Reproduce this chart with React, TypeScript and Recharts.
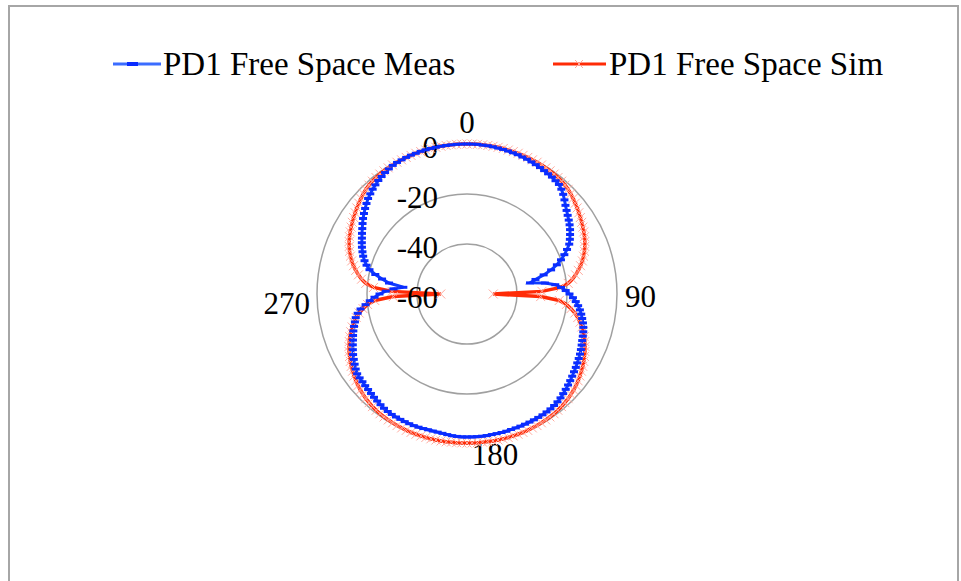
import { RadarChart, Radar, PolarGrid, PolarAngleAxis, PolarRadiusAxis, Legend } from "recharts";

const FONT = '"Liberation Serif", "Times New Roman", serif';

// measured pattern (dB), 0..358 deg in 2 deg steps
const meas = [
  0, 0, 0, -0.1, -0.1, -0.2, -0.3, -0.4, -0.5, -0.6,
  -0.7, -0.9, -1.0, -1.2, -1.4, -1.6, -1.8, -2.0, -2.2, -2.5,
  -2.8, -3.6, -4.6, -5.8, -7.0, -8.0, -8.9, -9.7, -10.5, -11.4,
  -12.4, -13.4, -14.5, -16.2, -18.0, -20.0, -22.2, -25.0, -28.4, -32.0,
  -34.4, -28.5, -24.5, -22.3, -20.5, -19.0, -17.6, -16.4, -15.3, -14.4,
  -13.6, -12.9, -12.2, -11.6, -11.1, -10.7, -10.3, -9.8, -9.3, -8.8,
  -8.4, -8.0, -7.5, -7.1, -6.6, -6.1, -5.6, -5.1, -4.6, -4.1,
  -3.7, -3.4, -3.2, -3.1, -3.0, -3.0, -3.0, -3.0, -3.0, -3.0,
  -3.0, -3.0, -2.9, -2.9, -2.9, -2.9, -2.8, -2.8, -2.8, -2.8,
  -2.8, -2.8, -2.9, -3.0, -3.2, -3.4, -3.5, -3.5, -3.5, -3.4,
  -3.3, -3.2, -3.2, -3.2, -3.2, -3.2, -3.2, -3.3, -3.5, -3.8,
  -4.1, -4.4, -4.7, -5.0, -5.2, -5.4, -5.5, -5.7, -6.3, -7.0,
  -7.7, -8.4, -9.2, -10.0, -10.8, -11.5, -12.2, -13.0, -13.8, -14.5,
  -15.6, -17.0, -19.2, -21.0, -23.0, -25.0, -27.5, -30.5, -34.4, -28.5,
  -25.5, -22.5, -19.8, -18.2, -16.9, -15.8, -14.9, -14.0, -13.2, -12.4,
  -11.5, -10.6, -9.6, -8.6, -7.7, -6.8, -5.9, -5.0, -4.3, -3.6,
  -3.0, -2.4, -1.9, -1.4, -1.0, -0.6, -0.4, -0.3, -0.2, -0.1,
  -0.1, 0, 0, 0, 0, 0, 0, 0, 0, 0,
];

// simulated pattern (dB), same angles
const sim = [
  0, 0, 0, 0, 0, 0, 0, 0, -0.1, -0.1,
  -0.1, -0.2, -0.2, -0.3, -0.3, -0.4, -0.5, -0.6, -0.7, -0.9,
  -1.1, -1.4, -1.8, -2.3, -2.9, -3.5, -4.1, -4.7, -5.3, -5.9,
  -6.5, -7.1, -7.7, -8.4, -9.2, -10.0, -11.0, -12.0, -13.2, -14.5,
  -15.9, -17.4, -19.3, -22.5, -30.0, -49.5, -30.5, -23.0, -20.0, -18.0,
  -16.2, -14.7, -13.4, -12.2, -11.1, -10.1, -9.2, -8.3, -7.5, -6.8,
  -6.1, -5.4, -4.8, -4.2, -3.6, -3.1, -2.6, -2.2, -1.8, -1.5,
  -1.2, -1.0, -0.8, -0.7, -0.6, -0.5, -0.4, -0.4, -0.3, -0.3,
  -0.3, -0.3, -0.3, -0.3, -0.3, -0.3, -0.4, -0.4, -0.4, -0.4,
  -0.4, -0.4, -0.4, -0.4, -0.3, -0.3, -0.3, -0.3, -0.3, -0.3,
  -0.3, -0.3, -0.3, -0.4, -0.4, -0.5, -0.6, -0.7, -0.8, -1.0,
  -1.2, -1.5, -1.8, -2.2, -2.6, -3.1, -3.6, -4.2, -4.8, -5.4,
  -6.1, -6.8, -7.5, -8.3, -9.2, -10.1, -11.1, -12.2, -13.4, -14.7,
  -16.2, -18.0, -20.0, -23.0, -30.5, -49.5, -30.0, -22.5, -19.3, -17.4,
  -15.9, -14.5, -13.2, -12.0, -11.0, -10.0, -9.2, -8.4, -7.7, -7.1,
  -6.5, -5.9, -5.3, -4.7, -4.1, -3.5, -2.9, -2.3, -1.8, -1.4,
  -1.1, -0.9, -0.7, -0.6, -0.5, -0.4, -0.3, -0.3, -0.2, -0.2,
  -0.1, -0.1, -0.1, 0, 0, 0, 0, 0, 0, 0,
];

const angleLabels = ["0", "90", "180", "270"];
const radiusTicks = [-60, -40, -20, 0];

const data = meas.map((m, i) => ({ angle: String(i * 2), meas: m, sim: sim[i] }));

const CX = 467;
const CY = 294;

const labelOffset: Record<string, [number, number, string]> = {
  "0": [0, -161, "middle"],
  "90": [158, 13, "start"],
  "180": [28, 171, "middle"],
  "270": [-157, 20, "end"],
};

function AngleTick(props: any) {
  const v = String(props.payload?.value);
  if (!angleLabels.includes(v)) return <g />;
  const [dx, dy, anchor] = labelOffset[v];
  return (
    <text x={CX + dx} y={CY + dy} textAnchor={anchor as any} fontFamily={FONT} fontSize={31} fill="#000">
      {v}
    </text>
  );
}

function RadiusTick(props: any) {
  return (
    <text x={props.x - 29} y={props.y + 14} textAnchor="end" fontFamily={FONT} fontSize={31} fill="#000">
      {props.payload.value}
    </text>
  );
}

function MeasDot(props: any) {
  return (
    <line
      key={`m-${props.index}`}
      x1={props.cx - 4}
      x2={props.cx + 4}
      y1={props.cy}
      y2={props.cy}
      stroke="#0a2cff"
      strokeWidth={3}
    />
  );
}

function SimDot(props: any) {
  const s = 4.5;
  const { cx, cy } = props;
  return (
    <path
      key={`s-${props.index}`}
      d={`M${cx - s},${cy - s}L${cx + s},${cy + s}M${cx - s},${cy + s}L${cx + s},${cy - s}`}
      stroke="#ffaa9e"
      strokeWidth={1}
      fill="none"
    />
  );
}

function LegendBox() {
  return (
    <svg width={961} height={50}>
      <line x1={113} x2={161} y1={24} y2={24} stroke="#3b6cff" strokeWidth={3} />
      <line x1={127} x2={138} y1={24} y2={24} stroke="#0a2cff" strokeWidth={4} />
      <text x={163} y={35} fontFamily={FONT} fontSize={33} fill="#000">
        PD1 Free Space Meas
      </text>
      <line x1={553} x2={606} y1={24} y2={24} stroke="#ff2b06" strokeWidth={3} />
      <path d="M575,20L583,28M575,28L583,20" stroke="#ffaa9e" strokeWidth={1} />
      <text x={609} y={35} fontFamily={FONT} fontSize={33} fill="#000">
        PD1 Free Space Sim
      </text>
    </svg>
  );
}

export default function App() {
  return (
    <div style={{ position: "fixed", left: 0, top: 0, width: 961, height: 581, overflow: "hidden", background: "#fff" }}>
      <div
        style={{
          position: "absolute",
          left: 8,
          top: 5,
          width: 947,
          height: 640,
          border: "2px solid #a6a6a6",
        }}
      />
      <div style={{ position: "absolute", left: 0, top: 0 }}>
        <RadarChart width={961} height={581} data={data} cx={CX} cy={CY} outerRadius={150} startAngle={90} endAngle={-270}>
          <PolarGrid gridType="circle" radialLines={false} stroke="#a0a0a0" strokeWidth={1.5} />
          <PolarAngleAxis dataKey="angle" axisLine={false} tickLine={false} tick={AngleTick} />
          <PolarRadiusAxis
            angle={90}
            type="number"
            domain={[-60, 0]}
            ticks={radiusTicks}
            allowDataOverflow
            axisLine={false}
            tickLine={false}
            tick={RadiusTick}
          />
          <Radar dataKey="sim" stroke="none" fill="none" dot={SimDot} isAnimationActive={false} legendType="none" />
          <Radar
            name="PD1 Free Space Meas"
            dataKey="meas"
            stroke="#0f3cff"
            strokeWidth={3}
            fill="none"
            dot={MeasDot}
            isAnimationActive={false}
          />
          <Radar
            name="PD1 Free Space Sim"
            dataKey="sim"
            stroke="#ff2b06"
            strokeWidth={3.5}
            fill="none"
            dot={false}
            isAnimationActive={false}
          />
          <Legend content={LegendBox} wrapperStyle={{ top: 40, left: 0, width: 961 }} />
        </RadarChart>
      </div>
    </div>
  );
}
